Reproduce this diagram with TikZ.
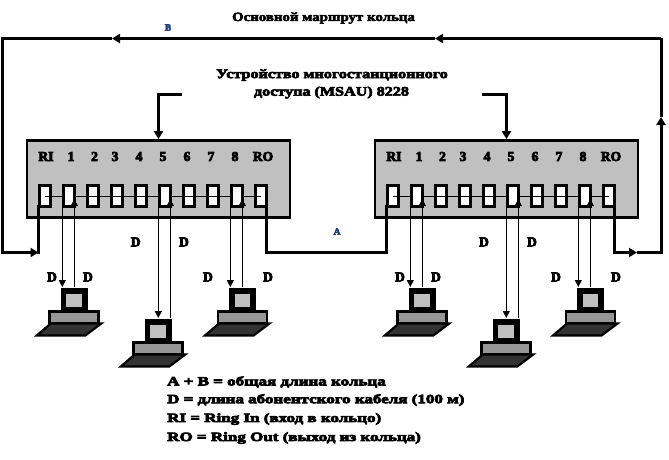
\documentclass[tikz,border=0pt]{standalone}
\usepackage{fontspec}
\setmainfont{Liberation Serif}
\newfontfamily\widefont[FakeStretch=1.35,FakeBold=6]{Liberation Serif Bold}
\newfontfamily\midfont[FakeStretch=1.24,FakeBold=5]{Liberation Serif Bold}
\newfontfamily\titlefont[FakeStretch=1.19,FakeBold=4]{Liberation Serif Bold}
\newfontfamily\boldfont[FakeBold=6]{Liberation Serif Bold}
\usetikzlibrary{arrows.meta}
\definecolor{boxgray}{HTML}{C0C0C0}
\definecolor{basegray}{HTML}{969696}
\definecolor{kbgray}{HTML}{333333}
\definecolor{lblblue}{HTML}{1F3F7F}
\tikzset{
  thick line/.style={line width=3pt,line join=miter},
  thin line/.style={line width=1.1pt},
  head/.style={-{Triangle[length=8pt,width=9pt]}},
  smallhead/.style={-{Triangle[length=7pt,width=7pt]}},
  hub/.style={draw,line width=2.8pt,fill=boxgray,minimum width=263pt,minimum height=77pt,inner sep=0pt},
  portbox/.style={draw,line width=3pt,fill=white,minimum width=11pt,minimum height=21.5pt,inner sep=0pt},
  portopen/.style={draw,line width=3pt,minimum width=11pt,minimum height=21.5pt,inner sep=0pt},
  lbl/.style={font=\boldfont\fontsize{13.5}{13}\selectfont,inner sep=0pt},
  dlbl/.style={font=\boldfont\fontsize{13.5}{13}\selectfont,inner sep=0pt},
  leg/.style={font=\widefont\fontsize{12.6}{13}\selectfont,inner sep=0pt,anchor=west},
  head text/.style={font=\midfont\fontsize{13}{13}\selectfont,inner sep=0pt},
  title text/.style={font=\titlefont\fontsize{12.5}{13}\selectfont,inner sep=0pt},
  markl/.style={font=\boldfont\fontsize{9.5}{9}\selectfont,text=lblblue,inner sep=0pt}
}
\newcommand{\huball}[2]{%
  \node[hub] (#1) at (#2+158.5,179) {};
  \foreach \i/\t/\lx in {0/RI/46,1/1/71,2/2/94.5,3/3/115,4/4/139,5/5/163,6/6/187,7/7/211,8/8/235,9/RO/263}{
    \node[lbl] (#1t\i) at (#2+\lx,156.5) {\t};
    \node[portbox] (#1p\i) at (#2+44.5+24*\i,196) {};
  }
  \draw[line width=1pt] (#1p0.center) -- (#1p9.center);
  \foreach \i in {0,2,3,4,6,7,9}{\node[portopen] at (#1p\i) {};}
  \foreach \i in {1,5,8}{\node[portbox] at (#1p\i) {};}
}
\newcommand{\pcall}[2]{%
  \begin{scope}[shift={(#1,#2)}]
    \path[fill=kbgray,draw=black,line width=2.2pt,line join=miter]
      (-37.5,47.5) -- (11,47.5) -- (27,35.5) -- (-23.5,35.5) -- cycle;
    \path[fill=basegray,draw=black,line width=2.8pt] (-24.5,23.5) rectangle (24.5,35);
    \path[fill=boxgray,draw=black,line width=5.6pt] (-10.7,3.2) rectangle (10.7,21.3);
  \end{scope}
}
\begin{document}
\begin{tikzpicture}[x=1pt,y=-1pt]
\useasboundingbox[fill=white] (0,0) rectangle (669,460);
\huball{h}{0}
\huball{g}{348}
% main ring
\coordinate (corner l) at (2.5,38.5);
\coordinate (corner r) at (661,38.5);
\coordinate (bl) at (2.5,252.5);
\coordinate (br) at (661,252.5);
\draw[thick line,head] (corner r) -- (435,38.5);
\draw[thick line,head] (435,38.5) -- (112,38.5);
\draw[thick line] (112,38.5) -- (corner l) -- (bl) -- (30,252.5);
\draw[thick line,head] (30,252.5) -- (38.5,252.5);
\draw[thick line] (38.5,254) -- (38.5,205);
\draw[thick line] (266,205) -- (266,252.5) -- (386,252.5) -- (386,205);
\draw[thick line,head] (614,205) -- (614,252.5) -- (637,252.5);
\draw[thick line] (637,252.5) -- (br) -- (661,125);
\draw[thick line,head] (661,125) -- (661,117);
\draw[thick line] (661,117) -- (corner r);
% MSAU pointers
\coordinate (pa) at (182,94);
\coordinate (pb) at (482,94);
\draw[thick line,head] (pa) -- (158.5,94) -- (h.north);
\draw[thick line,head] (pb) -- (506.5,94) -- (g.north);
% station cables and computers
\foreach \off in {0,348}{
  \foreach \cx/\ty/\dx in {74.3/288/62.3,158.3/319/158.3,242.5/288/230.3}{
    \pgfmathsetmacro{\xa}{\off+\dx}
    \pgfmathsetmacro{\xb}{\off+\dx+12}
    \pgfmathsetmacro{\xc}{\off+\cx}
    \pgfmathsetmacro{\yy}{\ty-1}
    \draw[thin line,smallhead] (\xa,207) -- (\xa,\yy);
    \draw[thin line,smallhead] (\xb,\yy) -- (\xb,199);
    \pcall{\xc}{\ty}
  }
}
% labels
\node[title text] (title) at (323.5,18) {Основной маршрут кольца};
\node[head text] (t1) at (332,75) {Устройство многостанционного};
\node[head text] (t2) at (331.5,92.5) {доступа (MSAU) 8228};
\node[markl] (lb) at (168,27.5) {B};
\node[markl] (la) at (337,231.5) {A};
\foreach \x/\y in {135.7/242,184/242,52/277,88/277,208/277,268/277,484/242,532/242,400/277,436/277,556/277,616/277}{
  \node[dlbl] at (\x,\y) {D};
}
\node[leg] (l1) at (167,382) {A + B = общая длина кольца};
\node[leg] (l2) at (167,400) {D = длина абонентского кабеля (100 м)};
\node[leg] (l3) at (167,419) {RI = Ring In (вход в кольцо)};
\node[leg] (l4) at (167,438) {RO = Ring Out (выход из кольца)};
\end{tikzpicture}
\end{document}
